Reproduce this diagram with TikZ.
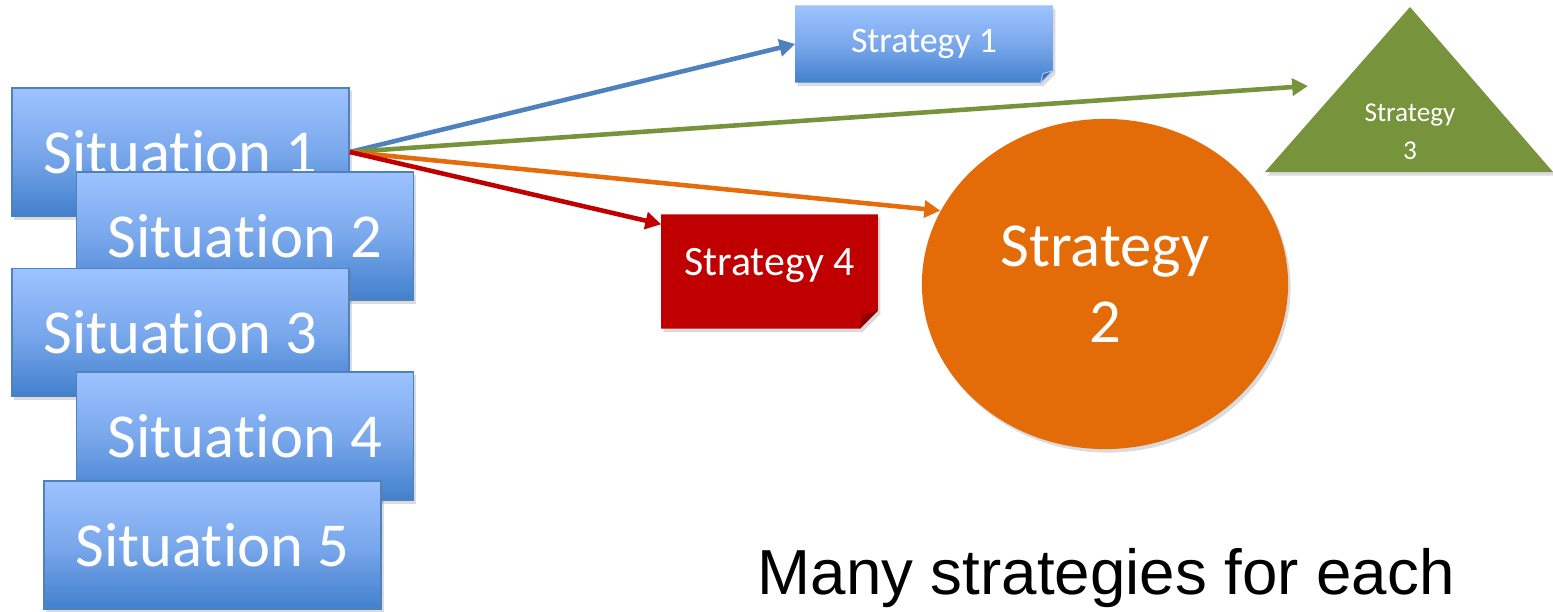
\documentclass[tikz,border=0pt]{standalone}
\usepackage{fontspec}
\setmainfont{Carlito}[RawFeature={-liga;-clig;-dlig;-calt}]
\newfontfamily\arialf{Liberation Sans}
\usetikzlibrary{shadows,arrows.meta,calc,backgrounds,shapes.geometric}
\newcommand{\sitword}{Situat\hbox{}\kern0.015em\hbox{i}on}

\definecolor{sitTop}{RGB}{157,195,255}
\definecolor{sitMid}{RGB}{122,168,236}
\definecolor{sitBot}{RGB}{66,128,205}
\definecolor{sitBorder}{RGB}{79,129,189}
\definecolor{blueArrow}{RGB}{79,129,189}
\definecolor{blueFold}{RGB}{60,105,175}
\definecolor{greenS}{RGB}{119,147,60}
\definecolor{orangeS}{RGB}{227,108,9}
\definecolor{orangeArrow}{RGB}{228,108,10}
\definecolor{redS}{RGB}{192,0,0}
\definecolor{redFold}{RGB}{140,0,0}

\begin{document}
\begin{tikzpicture}[x=0.01cm,y=-0.01cm,
  shadowed/.style={drop shadow={opacity=0.28,shadow xshift=0.025cm,shadow yshift=-0.035cm}},
  sitbox/.style={draw=sitBorder,line width=0.4pt,top color=sitTop,bottom color=sitBot,middle color=sitMid,
    minimum width=3.37cm,minimum height=1.28cm,inner sep=0pt,text=white,
    font=\fontsize{17.8}{21.6}\selectfont,shadowed},
  arrowline/.style={line width=1.3pt,-{Triangle[length=4.5pt,width=4.8pt]}},
  whitetext/.style={text=white,inner sep=0pt}
]
\path[use as bounding box] (0,0) rectangle (1553,612);

% Situation boxes
\node[sitbox] (sit1) at (180.5,152) {\sitword{} 1};
\node[sitbox] (sit2) at (245,236) {\sitword{} 2};
\node[sitbox] (sit3) at (180.5,332.5) {\sitword{} 3};
\node[sitbox] (sit4) at (245,436) {\sitword{} 4};
\node[sitbox] (sit5) at (212.5,545) {\sitword{} 5};

% Strategy 1 (folded corner)
\node[whitetext,minimum width=2.56cm,minimum height=0.76cm,font=\fontsize{10.2}{12}\selectfont] (s1) at (924,44) {Strategy 1};
% Strategy 4 (folded corner)
\node[whitetext,minimum width=2.15cm,minimum height=1.13cm,font=\fontsize{11.9}{14}\selectfont,text depth=5.7pt] (s4) at (769.5,271.5) {Strategy 4};

\begin{scope}[on background layer]
\fill[white] (0,0) rectangle (1553,612);
\shade[top color=sitTop,bottom color=sitBot,middle color=sitMid,shadowed]
  (s1.north west) -- (s1.north east) -- ($(s1.south east)+(0,-12)$) -- ($(s1.south east)+(-12,0)$) -- (s1.south west) -- cycle;
\fill[redS,shadowed]
  (s4.north west) -- (s4.north east) -- ($(s4.south east)+(0,-18)$) -- ($(s4.south east)+(-18,0)$) -- (s4.south west) -- cycle;
\end{scope}
\fill[blueFold,draw=sitTop,line width=0.3pt] ($(s1.south east)+(0,-12)$) -- ($(s1.south east)+(-12,0)$) -- ($(s1.south east)+(-10,-9)$) -- cycle;
\fill[redFold] ($(s4.south east)+(0,-18)$) -- ($(s4.south east)+(-18,0)$) -- ($(s4.south east)+(-15,-14)$) -- cycle;

% Strategy 3 (triangle)
\fill[greenS,shadowed] (1410,7) -- (1553,172) -- (1265,172) -- cycle;
\node[whitetext,align=center,font=\fontsize{7.75}{10.8}\selectfont] (s3) at (1410,132) {Strategy\\3};

% Strategy 2 (ellipse)
\node[ellipse,fill=orangeS,minimum width=3.66cm,minimum height=3.30cm,inner sep=0pt,text=white,align=center,
  font=\fontsize{17.8}{21.6}\selectfont,shadowed] (s2) at (1105,284) {Strategy\\2};

% connectors
\coordinate (g3) at (1308,86);
\draw[arrowline,blueArrow] (sit1.east) -- (s1.west);
\draw[arrowline,greenS] (sit1.east) -- (g3);
\draw[arrowline,orangeArrow] (sit1.east) -- (s2.156);
\draw[arrowline,redS] (sit1.east) -- ($(s4.north west)+(0,10)$);

% caption
\node[anchor=base west,inner sep=0pt,font=\arialf\fontsize{18.1}{21}\selectfont] (cap) at (757,594) {Many strategies for each};
\end{tikzpicture}
\end{document}
